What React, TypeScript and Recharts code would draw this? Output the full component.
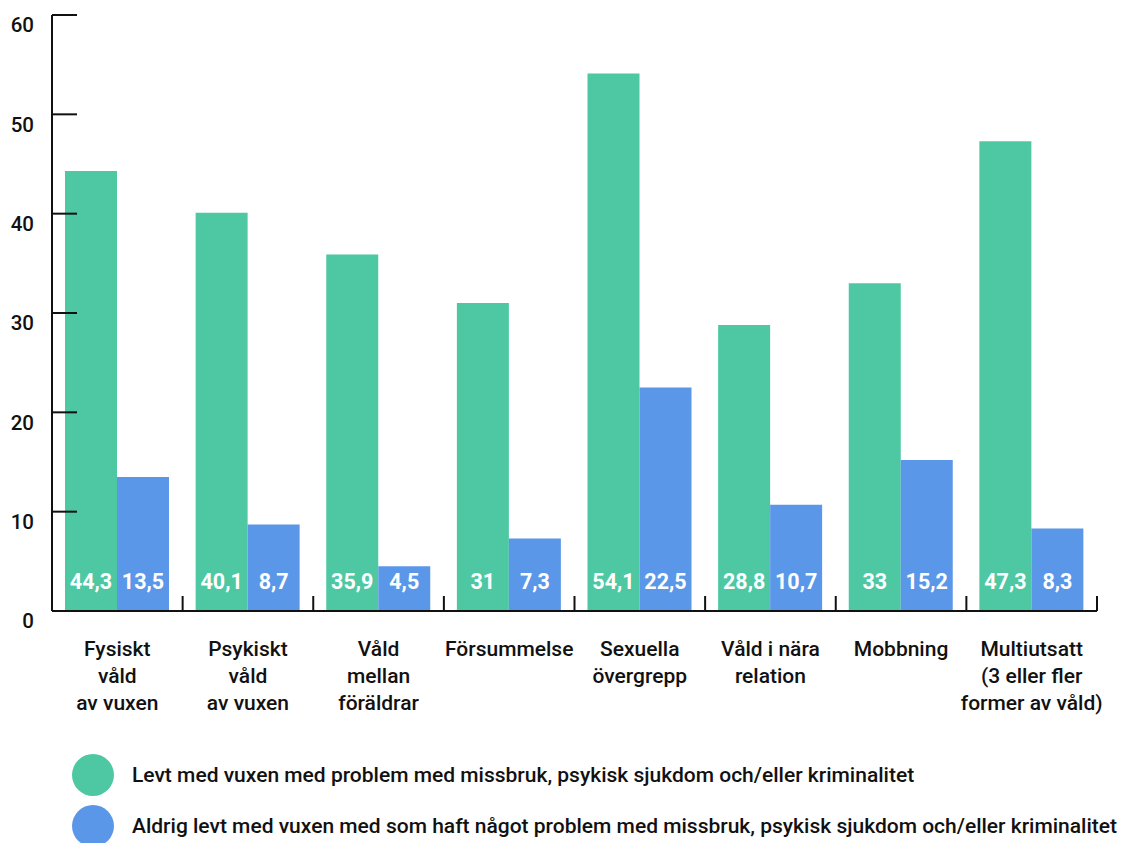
import { BarChart, Bar, XAxis, YAxis, LabelList } from 'recharts'

const categories = [
  'Fysiskt\nvåld\nav vuxen',
  'Psykiskt\nvåld\nav vuxen',
  'Våld\nmellan\nföräldrar',
  'Försummelse',
  'Sexuella\növergrepp',
  'Våld i nära\nrelation',
  'Mobbning',
  'Multiutsatt\n(3 eller fler\nformer av våld)',
]
const withProblems = [44.3, 40.1, 35.9, 31, 54.1, 28.8, 33, 47.3]
const withoutProblems = [13.5, 8.7, 4.5, 7.3, 22.5, 10.7, 15.2, 8.3]
const yTicks = [0, 10, 20, 30, 40, 50, 60]
const seriesNames = [
  'Levt med vuxen med problem med missbruk, psykisk sjukdom och/eller kriminalitet',
  'Aldrig levt med vuxen med som haft något problem med missbruk, psykisk sjukdom och/eller kriminalitet',
]

const GREEN = '#4dc8a3'
const BLUE = '#5b97e8'
const FONT = 'Roboto, sans-serif'

const W = 1124
const H = 843
const M = { top: 15, right: 27, left: 0, bottom: 0 }
const Y_W = 52
const X_H = 232
const BAND = (W - M.right - Y_W) / categories.length

const data = categories.map((c, i) => ({
  name: c,
  a: withProblems[i],
  b: withoutProblems[i],
}))

const fmt = (v: number) => String(v).replace('.', ',')

function XTick(props: any) {
  const { x, y, payload } = props
  const lines = String(payload.value).split('\n')
  const bx = Number(x) + BAND / 2
  return (
    <g>
      <line x1={bx} x2={bx} y1={Number(y) - 15} y2={Number(y)} stroke="#111" strokeWidth={2} />
      <text x={Number(x)} y={Number(y) + 45} textAnchor="middle" fontSize={21} fontWeight={500}
        fontFamily={FONT} fill="#111">
        {lines.map((l, i) => (
          <tspan key={i} x={Number(x)} dy={i === 0 ? 0 : 27}>{l}</tspan>
        ))}
      </text>
    </g>
  )
}

function YTick(props: any) {
  const { x, y, payload } = props
  return (
    <g>
      <line x1={Number(x)} x2={Number(x) + 25} y1={Number(y)} y2={Number(y)} stroke="#111" strokeWidth={2} />
      <text x={Number(x) - 18} y={Number(y) + 12} textAnchor="end" dominantBaseline="middle"
        fontSize={20.5} fontWeight={500} fontFamily={FONT} fill="#111">
        {payload.value}
      </text>
    </g>
  )
}

function BarValue(props: any) {
  const { x, y, width, height, value } = props
  return (
    <text x={Number(x) + Number(width) / 2} y={Number(y) + Number(height) - 28}
      textAnchor="middle" dominantBaseline="middle" fontSize={21.5} fontWeight={700}
      fontFamily={FONT} fill="#fff">
      {fmt(value)}
    </text>
  )
}

export default function App() {
  return (
    <div style={{ position: 'absolute', left: 0, top: 0, width: W, height: H, fontFamily: FONT }}>
      <BarChart width={W} height={H} data={data} margin={M} barCategoryGap={13} barGap={0}>
        <XAxis
          dataKey="name"
          height={X_H}
          interval={0}
          tickSize={0}
          tickMargin={0}
          tickLine={false}
          axisLine={{ stroke: '#111', strokeWidth: 2 }}
          tick={XTick}
        />
        <YAxis
          width={Y_W}
          domain={[0, 60]}
          ticks={yTicks}
          tickSize={0}
          tickMargin={0}
          tickLine={false}
          axisLine={{ stroke: '#111', strokeWidth: 2 }}
          tick={YTick}
        />
        <Bar dataKey="a" fill={GREEN} isAnimationActive={false}>
          <LabelList dataKey="a" content={BarValue} />
        </Bar>
        <Bar dataKey="b" fill={BLUE} isAnimationActive={false}>
          <LabelList dataKey="b" content={BarValue} />
        </Bar>
      </BarChart>
      {seriesNames.map((n, i) => (
        <div key={i} style={{ position: 'absolute', left: 72, top: 754 + i * 51, display: 'flex', alignItems: 'center' }}>
          <span style={{ width: 42, height: 42, borderRadius: '50%', background: i === 0 ? GREEN : BLUE, display: 'inline-block' }} />
          <span style={{ marginLeft: 18, fontSize: 21, fontWeight: 500, color: '#111', whiteSpace: 'nowrap' }}>{n}</span>
        </div>
      ))}
    </div>
  )
}
